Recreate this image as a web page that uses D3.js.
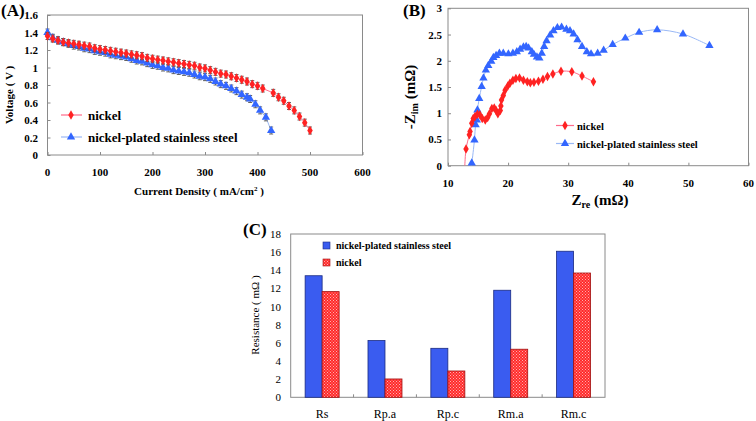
<!DOCTYPE html>
<html><head><meta charset="utf-8">
<script src="https://cdn.jsdelivr.net/npm/d3@7"></script>
<style>body{margin:0;background:#fff}svg{display:block}text{font-family:"Liberation Serif","Times New Roman",serif}</style>
</head><body>
<svg id="c" width="756" height="421"></svg>
<script>
// ---- Panel A data ----
const niX = [0,10,20,30,40,50,60,70,80,90,100,110,120,130,140,150,160,170,180,190,200,210,220,230,240,250,260,270,280,290,300,310,320,330,340,350,360,370,380,390,400,410,430,440,450,460,470,480,490,500];
const niV = [1.36,1.33,1.31,1.29,1.28,1.27,1.26,1.25,1.24,1.22,1.21,1.20,1.19,1.18,1.17,1.16,1.15,1.14,1.13,1.11,1.10,1.09,1.08,1.07,1.06,1.05,1.04,1.03,1.02,1.00,0.99,0.97,0.95,0.93,0.92,0.90,0.88,0.86,0.84,0.81,0.79,0.76,0.71,0.66,0.62,0.56,0.51,0.44,0.37,0.28];
const ssX = [0,10,20,30,40,50,60,70,80,90,100,110,120,130,140,150,160,170,180,190,200,210,220,230,240,250,260,270,280,290,300,310,320,330,340,350,360,370,380,386,396,405,416,426];
const ssV = [1.40,1.34,1.31,1.29,1.27,1.25,1.24,1.22,1.21,1.19,1.18,1.17,1.15,1.14,1.13,1.12,1.10,1.08,1.07,1.05,1.03,1.02,1.00,0.99,0.97,0.96,0.95,0.94,0.92,0.90,0.89,0.87,0.84,0.81,0.79,0.76,0.73,0.69,0.66,0.64,0.58,0.51,0.43,0.28];
const errA = 0.04;
const aXTicks = [0,100,200,300,400,500,600];
const aYTicks = [0,0.2,0.4,0.6,0.8,1,1.2,1.4,1.6];

// ---- Panel B data ----
const niRe = [13.0,13.55,13.67,13.95,14.2,14.5,14.9,15.3,15.7,16.2,16.6,16.9,17.3,17.7,18.0,18.3,18.7,18.8,18.9,19.2,19.5,19.95,20.3,20.8,21.3,21.9,22.55,23.2,23.7,24.3,25.05,25.8,26.55,27.45,28.8,30.6,32.3,34.2];
const niIm = [0.32,0.59,0.65,0.81,0.90,0.94,0.98,0.97,0.90,0.87,0.92,0.99,1.09,1.10,1.05,0.99,1.05,1.14,1.25,1.34,1.44,1.52,1.57,1.63,1.66,1.67,1.63,1.60,1.58,1.59,1.61,1.65,1.70,1.75,1.80,1.79,1.71,1.60];
const ssRe = [13.95,14.4,14.6,14.8,14.9,15.2,15.6,15.9,16.3,16.7,17.2,17.55,18.0,18.55,19.2,20.05,20.8,21.45,22.0,22.55,23.0,23.4,23.95,24.3,24.8,25.2,25.6,26.0,26.4,27.0,27.55,28.2,28.9,29.7,30.3,30.9,31.55,32.3,33.1,33.8,34.9,35.9,37.4,39.5,41.8,44.8,49.1,53.5];
const ssIm = [0.05,0.49,0.78,0.87,1.06,1.28,1.51,1.67,1.82,1.91,1.99,2.06,2.10,2.14,2.14,2.13,2.14,2.17,2.22,2.26,2.27,2.24,2.17,2.12,2.07,2.05,2.14,2.27,2.38,2.49,2.57,2.63,2.64,2.60,2.57,2.51,2.40,2.27,2.17,2.13,2.14,2.20,2.31,2.43,2.54,2.59,2.51,2.29];
const bXTicks = [10,20,30,40,50,60];
const bYTicks = [0,0.5,1,1.5,2,2.5,3];

// ---- Panel C data ----
const cCats = ["Rs","Rp.a","Rp.c","Rm.a","Rm.c"];
const cSS = [13.4,6.25,5.4,11.8,16.1];
const cNi = [11.65,2.02,2.9,5.3,13.7];
const cYTicks = [0,2,4,6,8,10,12,14,16,18];

const RED = "#ff2222", REDL = "#ff6b8a", BLUE = "#3366ff", BLUEL = "#99b8f5", FRAME = "#8a8a8a", ERR = "#555";
const svg = d3.select("#c");
const defs = svg.append("defs");
const pat = defs.append("pattern").attr("id","chk").attr("patternUnits","userSpaceOnUse").attr("width",3).attr("height",3);
pat.append("rect").attr("width",3).attr("height",3).attr("fill","#ff2a2a");
pat.append("rect").attr("width",1).attr("height",1).attr("fill","#ffb0b0");
pat.append("rect").attr("x",1.5).attr("y",1.5).attr("width",1).attr("height",1).attr("fill","#ffb0b0");

const diamond = d3.symbol().type(d3.symbolDiamond).size(26);
const tri = d3.symbol().type(d3.symbolTriangle).size(30);

function frame(g, x0, y0, x1, y1){
  g.append("rect").attr("x",x0).attr("y",y0).attr("width",x1-x0).attr("height",y1-y0)
    .attr("fill","none").attr("stroke",FRAME).attr("stroke-width",1);
}

// ================= Panel A =================
{
  const x = d3.scaleLinear().domain([0,600]).range([47.5,362.5]);
  const y = d3.scaleLinear().domain([0,1.6]).range([155,15]);
  const g = svg.append("g");
  frame(g, x(0), y(1.6), x(600), y(0));
  g.append("g").attr("transform",`translate(0,${y(0)})`)
    .call(d3.axisTop(x).tickValues(aXTicks).tickSize(3).tickFormat(""))
    .call(a=>{a.select(".domain").remove(); a.selectAll("line").attr("stroke",FRAME);});
  g.append("g").attr("transform",`translate(${x(0)},0)`)
    .call(d3.axisRight(y).tickValues(aYTicks).tickSize(3).tickFormat(""))
    .call(a=>{a.select(".domain").remove(); a.selectAll("line").attr("stroke",FRAME);});
  g.selectAll(".ayl").data(aYTicks).join("text").attr("x",38).attr("y",d=>y(d)+4)
    .attr("text-anchor","end").attr("font-size",11).attr("font-weight","bold").text(d=>d3.format("~g")(d));
  g.selectAll(".axl").data(aXTicks).join("text").attr("x",d=>x(d)).attr("y",176)
    .attr("text-anchor","middle").attr("font-size",11).attr("font-weight","bold").text(d=>d);
  const xt = g.append("text").attr("x",199).attr("y",195).attr("text-anchor","middle").attr("font-size",11).attr("font-weight","bold");
  xt.append("tspan").text("Current Density ( mA/cm");
  xt.append("tspan").attr("dy",-4).attr("font-size",7).text("2");
  xt.append("tspan").attr("dy",4).text(" )");
  g.append("text").attr("transform",`translate(13,95) rotate(-90)`).attr("text-anchor","middle")
    .attr("font-size",11).attr("font-weight","bold").text("Voltage ( V )");
  g.append("text").attr("x",1).attr("y",16).attr("font-size",17).attr("font-weight","bold").text("(A)");

  const series = [
    {xs:ssX, vs:ssV, c:BLUE, lc:BLUEL, sym:tri},
    {xs:niX, vs:niV, c:RED, lc:REDL, sym:diamond}
  ];
  series.forEach(s=>{
    const pts = s.xs.map((v,i)=>[v,s.vs[i]]);
    g.append("path").datum(pts).attr("fill","none").attr("stroke",s.lc).attr("stroke-width",1)
      .attr("d",d3.line().x(d=>x(d[0])).y(d=>y(d[1])));
    const eb = g.append("g").attr("stroke",ERR).attr("stroke-width",0.9);
    pts.forEach(p=>{
      const px=x(p[0]), yt=y(p[1]+errA), yb=y(p[1]-errA);
      eb.append("line").attr("x1",px).attr("x2",px).attr("y1",yt).attr("y2",yb);
      eb.append("line").attr("x1",px-2).attr("x2",px+2).attr("y1",yt).attr("y2",yt);
      eb.append("line").attr("x1",px-2).attr("x2",px+2).attr("y1",yb).attr("y2",yb);
    });
    g.append("g").selectAll("path").data(pts).join("path")
      .attr("transform",d=>`translate(${x(d[0])},${y(d[1])})`).attr("d",s.sym).attr("fill",s.c);
  });
  const lg = [{t:"nickel",c:RED,lc:REDL,sym:diamond,y:115},{t:"nickel-plated stainless steel",c:BLUE,lc:BLUEL,sym:tri,y:137}];
  lg.forEach(l=>{
    g.append("line").attr("x1",61).attr("x2",82).attr("y1",l.y).attr("y2",l.y).attr("stroke",l.lc).attr("stroke-width",1.2);
    g.append("path").attr("transform",`translate(71,${l.y})`).attr("d",l.sym).attr("fill",l.c);
    g.append("text").attr("x",88).attr("y",l.y+4.5).attr("font-size",13).attr("font-weight","bold").text(l.t);
  });
}

// ================= Panel B =================
{
  const x = d3.scaleLinear().domain([10,60]).range([448,748.5]);
  const y = d3.scaleLinear().domain([0,3]).range([165.7,8.3]);
  const g = svg.append("g");
  frame(g, x(10), y(3), x(60), y(0));
  g.append("g").attr("transform",`translate(0,${y(0)})`)
    .call(d3.axisTop(x).tickValues(bXTicks).tickSize(3).tickFormat(""))
    .call(a=>{a.select(".domain").remove(); a.selectAll("line").attr("stroke",FRAME);});
  g.append("g").attr("transform",`translate(${x(10)},0)`)
    .call(d3.axisRight(y).tickValues(bYTicks).tickSize(3).tickFormat(""))
    .call(a=>{a.select(".domain").remove(); a.selectAll("line").attr("stroke",FRAME);});
  g.selectAll(".byl").data(bYTicks).join("text").attr("x",442).attr("y",d=>y(d)+4)
    .attr("text-anchor","end").attr("font-size",11).attr("font-weight","bold").text(d=>d3.format("~g")(d));
  g.selectAll(".bxl").data(bXTicks).join("text").attr("x",d=>x(d)).attr("y",187)
    .attr("text-anchor","middle").attr("font-size",11).attr("font-weight","bold").text(d=>d);
  const yt = g.append("text").attr("transform",`translate(415,97) rotate(-90)`).attr("text-anchor","middle")
    .attr("font-size",15).attr("font-weight","bold");
  yt.append("tspan").text("-Z");
  yt.append("tspan").attr("dy",3).attr("font-size",10).text("im");
  yt.append("tspan").attr("dy",-3).text(" (mΩ)");
  const xt = g.append("text").attr("x",600).attr("y",205).attr("text-anchor","middle")
    .attr("font-size",15).attr("font-weight","bold");
  xt.append("tspan").text("Z");
  xt.append("tspan").attr("dy",3).attr("font-size",10).text("re");
  xt.append("tspan").attr("dy",-3).text(" (mΩ)");
  g.append("text").attr("x",403).attr("y",16).attr("font-size",17).attr("font-weight","bold").text("(B)");

  defs.append("clipPath").attr("id","bclip").append("rect")
    .attr("x",x(10)).attr("y",y(3)).attr("width",x(60)-x(10)).attr("height",y(0)-y(3));
  const series = [
    {xs:ssRe, vs:ssIm, c:BLUE, lc:BLUEL, sym:tri, start:[13.85,0]},
    {xs:niRe, vs:niIm, c:RED, lc:REDL, sym:diamond, start:[12.8,0]}
  ];
  series.forEach(s=>{
    const pts = s.xs.map((v,i)=>[v,s.vs[i]]);
    g.append("path").datum([s.start].concat(pts)).attr("clip-path","url(#bclip)").attr("fill","none").attr("stroke",s.lc).attr("stroke-width",1)
      .attr("d",d3.line().x(d=>x(d[0])).y(d=>y(d[1])).curve(d3.curveCatmullRom));
    g.append("g").selectAll("path").data(pts).join("path")
      .attr("transform",d=>`translate(${x(d[0])},${y(d[1])})`).attr("d",s.sym).attr("fill",s.c);
  });
  const lg = [{t:"nickel",c:RED,lc:REDL,sym:diamond,y:125.5},{t:"nickel-plated stainless steel",c:BLUE,lc:BLUEL,sym:tri,y:143.5}];
  lg.forEach(l=>{
    g.append("line").attr("x1",556).attr("x2",574).attr("y1",l.y).attr("y2",l.y).attr("stroke",l.lc).attr("stroke-width",1.2);
    g.append("path").attr("transform",`translate(565,${l.y})`).attr("d",l.sym).attr("fill",l.c);
    g.append("text").attr("x",577).attr("y",l.y+4).attr("font-size",10.5).attr("font-weight","bold").text(l.t);
  });
}

// ================= Panel C =================
{
  const x = d3.scaleBand().domain(cCats).range([290.7,605]);
  const y = d3.scaleLinear().domain([0,18]).range([397.3,234]);
  const g = svg.append("g");
  frame(g, 290.7, y(18), 605, y(0));
  const sep = cCats.slice(1).map(c=>x(c));
  g.selectAll(".sep").data(sep).join("line").attr("x1",d=>d).attr("x2",d=>d)
    .attr("y1",y(0)).attr("y2",y(0)-3).attr("stroke",FRAME);
  g.selectAll(".cyl").data(cYTicks).join("text").attr("x",281).attr("y",d=>y(d)+4)
    .attr("text-anchor","end").attr("font-size",11).text(d=>d);
  g.selectAll(".cxl").data(cCats).join("text").attr("x",d=>x(d)+x.bandwidth()/2).attr("y",418)
    .attr("text-anchor","middle").attr("font-size",12).text(d=>d);
  g.append("text").attr("transform",`translate(259,315) rotate(-90)`).attr("text-anchor","middle")
    .attr("font-size",11).text("Resistance ( mΩ )");
  g.append("text").attr("x",243).attr("y",235).attr("font-size",17).attr("font-weight","bold").text("(C)");

  const bw = 17;
  const cx = c => x(c)+x.bandwidth()/2;
  g.selectAll(".bs").data(cCats).join("rect").attr("x",d=>cx(d)-bw).attr("width",bw)
    .attr("y",(d,i)=>y(cSS[i])).attr("height",(d,i)=>y(0)-y(cSS[i]))
    .attr("fill","#3a5cf0").attr("stroke","#1a2a80").attr("stroke-width",0.8);
  g.selectAll(".bn").data(cCats).join("rect").attr("x",d=>cx(d)).attr("width",bw)
    .attr("y",(d,i)=>y(cNi[i])).attr("height",(d,i)=>y(0)-y(cNi[i]))
    .attr("fill","url(#chk)").attr("stroke","#a01010").attr("stroke-width",0.8);
  g.append("rect").attr("x",323).attr("y",242).attr("width",7).attr("height",7).attr("fill","#3a5cf0").attr("stroke","#1a2a80").attr("stroke-width",0.6);
  g.append("text").attr("x",336).attr("y",249).attr("font-size",10).attr("font-weight","bold").text("nickel-plated stainless steel");
  g.append("rect").attr("x",323).attr("y",259).attr("width",7).attr("height",7).attr("fill","url(#chk)").attr("stroke","#a01010").attr("stroke-width",0.6);
  g.append("text").attr("x",336).attr("y",266).attr("font-size",10).attr("font-weight","bold").text("nickel");
}
</script>
</body></html>
